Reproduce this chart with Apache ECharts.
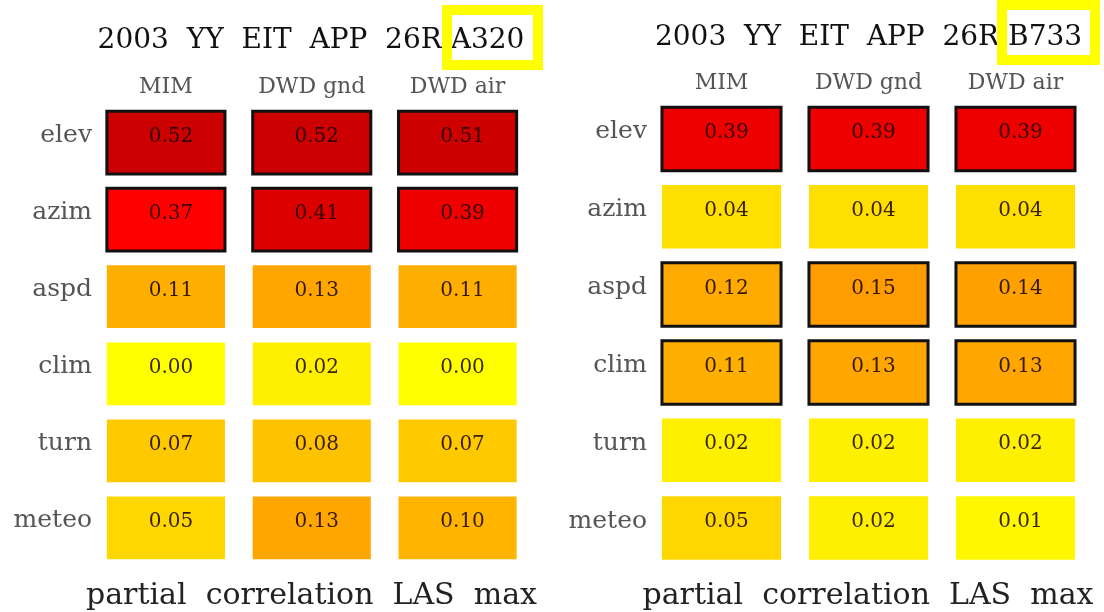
<!DOCTYPE html>
<html><head><meta charset="utf-8">
<script src="https://cdn.jsdelivr.net/npm/echarts@6/dist/echarts.min.js"></script>
<style>html,body{margin:0;padding:0;background:#fff}#c{width:1104px;height:612px}</style>
</head><body><div id="c"></div>
<script>
// ---- data ----
const columns = ['MIM', 'DWD gnd', 'DWD air'];
const rows = ['elev', 'azim', 'aspd', 'clim', 'turn', 'meteo'];
const titleA320 = '2003  YY  EIT  APP  26R A320';
const titleB733 = '2003  YY  EIT  APP  26R B733';
const footer = 'partial  correlation  LAS  max';
const valuesA320 = [
  [0.52, 0.52, 0.51],
  [0.37, 0.41, 0.39],
  [0.11, 0.13, 0.11],
  [0.00, 0.02, 0.00],
  [0.07, 0.08, 0.07],
  [0.05, 0.13, 0.10]
];
const boxedA320 = [1, 1, 0, 0, 0, 0];
const valuesB733 = [
  [0.39, 0.39, 0.39],
  [0.04, 0.04, 0.04],
  [0.12, 0.15, 0.14],
  [0.11, 0.13, 0.13],
  [0.02, 0.02, 0.02],
  [0.05, 0.02, 0.01]
];
const boxedB733 = [1, 0, 1, 1, 0, 0];

// ---- colour scale ----
const stops = [
  [0.00, [255, 255, 0]],
  [0.05, [255, 215, 0]],
  [0.10, [255, 180, 0]],
  [0.15, [255, 156, 0]],
  [0.37, [255, 0, 0]],
  [0.39, [238, 0, 0]],
  [0.41, [221, 0, 0]],
  [0.52, [204, 0, 0]]
];
function colorFor(v) {
  if (v <= stops[0][0]) return 'rgb(' + stops[0][1].join(',') + ')';
  for (let i = 1; i < stops.length; i++) {
    if (v <= stops[i][0]) {
      const a = stops[i - 1], b = stops[i];
      const t = (v - a[0]) / (b[0] - a[0]);
      const c = a[1].map((x, k) => Math.round(x + (b[1][k] - x) * t));
      return 'rgb(' + c.join(',') + ')';
    }
  }
  return 'rgb(' + stops[stops.length - 1][1].join(',') + ')';
}

function toData(vals, boxed) {
  const out = [];
  vals.forEach((r, ri) => r.forEach((v, ci) => out.push([ci, ri, v, boxed[ri]])));
  return out;
}

const FONT = '"DejaVu Serif", "Liberation Serif", serif';

function renderItem(params, api) {
  const c = api.coord([api.value(0), api.value(1)]);
  const s = api.size([1, 1]);
  const w = s[0] * 0.81, h = s[1] * 0.815;
  const v = api.value(2), b = api.value(3);
  return {
    type: 'group',
    children: [
      {
        type: 'rect',
        shape: { x: c[0] - w / 2, y: c[1] - h / 2, width: w, height: h },
        style: { fill: colorFor(v), stroke: b ? '#111' : null, lineWidth: b ? 3 : 0 }
      },
      {
        type: 'text',
        x: c[0] + 5, y: c[1] - 6,
        style: {
          text: v.toFixed(2), font: '20px ' + FONT, fill: 'rgba(20,0,0,0.85)',
          align: 'center', verticalAlign: 'middle'
        }
      }
    ]
  };
}

function xAx(gi) {
  return {
    type: 'category', gridIndex: gi, data: columns, position: 'top',
    axisLine: { show: false }, axisTick: { show: false }, splitLine: { show: false },
    axisLabel: { fontFamily: FONT, fontSize: 22, color: '#555', margin: 6 }
  };
}
function yAx(gi) {
  return {
    type: 'category', gridIndex: gi, data: rows, inverse: true,
    axisLine: { show: false }, axisTick: { show: false }, splitLine: { show: false },
    axisLabel: { fontFamily: FONT, fontSize: 25, color: '#555', margin: 1, verticalAlign: 'bottom', lineHeight: 14 }
  };
}

const chart = echarts.init(document.getElementById('c'), null, { renderer: 'canvas' });
chart.setOption({
  backgroundColor: '#fff',
  animation: false,
  grid: [
    { left: 93, top: 104, width: 437.5, height: 462.5, containLabel: false, outerBoundsMode: 'none' },
    { left: 648, top: 100, width: 441, height: 467, containLabel: false, outerBoundsMode: 'none' }
  ],
  xAxis: [xAx(0), xAx(1)],
  yAxis: [yAx(0), yAx(1)],
  series: [
    { type: 'custom', xAxisIndex: 0, yAxisIndex: 0, renderItem, data: toData(valuesA320, boxedA320) },
    { type: 'custom', xAxisIndex: 1, yAxisIndex: 1, renderItem, data: toData(valuesB733, boxedB733) }
  ],
  graphic: [
    { type: 'text', x: 311, y: 41, style: { text: titleA320, font: '28px ' + FONT, fill: '#111', align: 'center', verticalAlign: 'middle' } },
    { type: 'text', x: 868.5, y: 38, style: { text: titleB733, font: '28px ' + FONT, fill: '#111', align: 'center', verticalAlign: 'middle' } },
    { type: 'rect', shape: { x: 447, y: 10, width: 91, height: 55 }, style: { fill: null, stroke: '#FFFF00', lineWidth: 10 } },
    { type: 'rect', shape: { x: 1002, y: 5, width: 93, height: 55 }, style: { fill: null, stroke: '#FFFF00', lineWidth: 10 } },
    { type: 'text', x: 311.5, y: 596, style: { text: footer, font: '30px ' + FONT, fill: '#222', align: 'center', verticalAlign: 'middle' } },
    { type: 'text', x: 868, y: 596, style: { text: footer, font: '30px ' + FONT, fill: '#222', align: 'center', verticalAlign: 'middle' } }
  ]
});
</script>
</body></html>
